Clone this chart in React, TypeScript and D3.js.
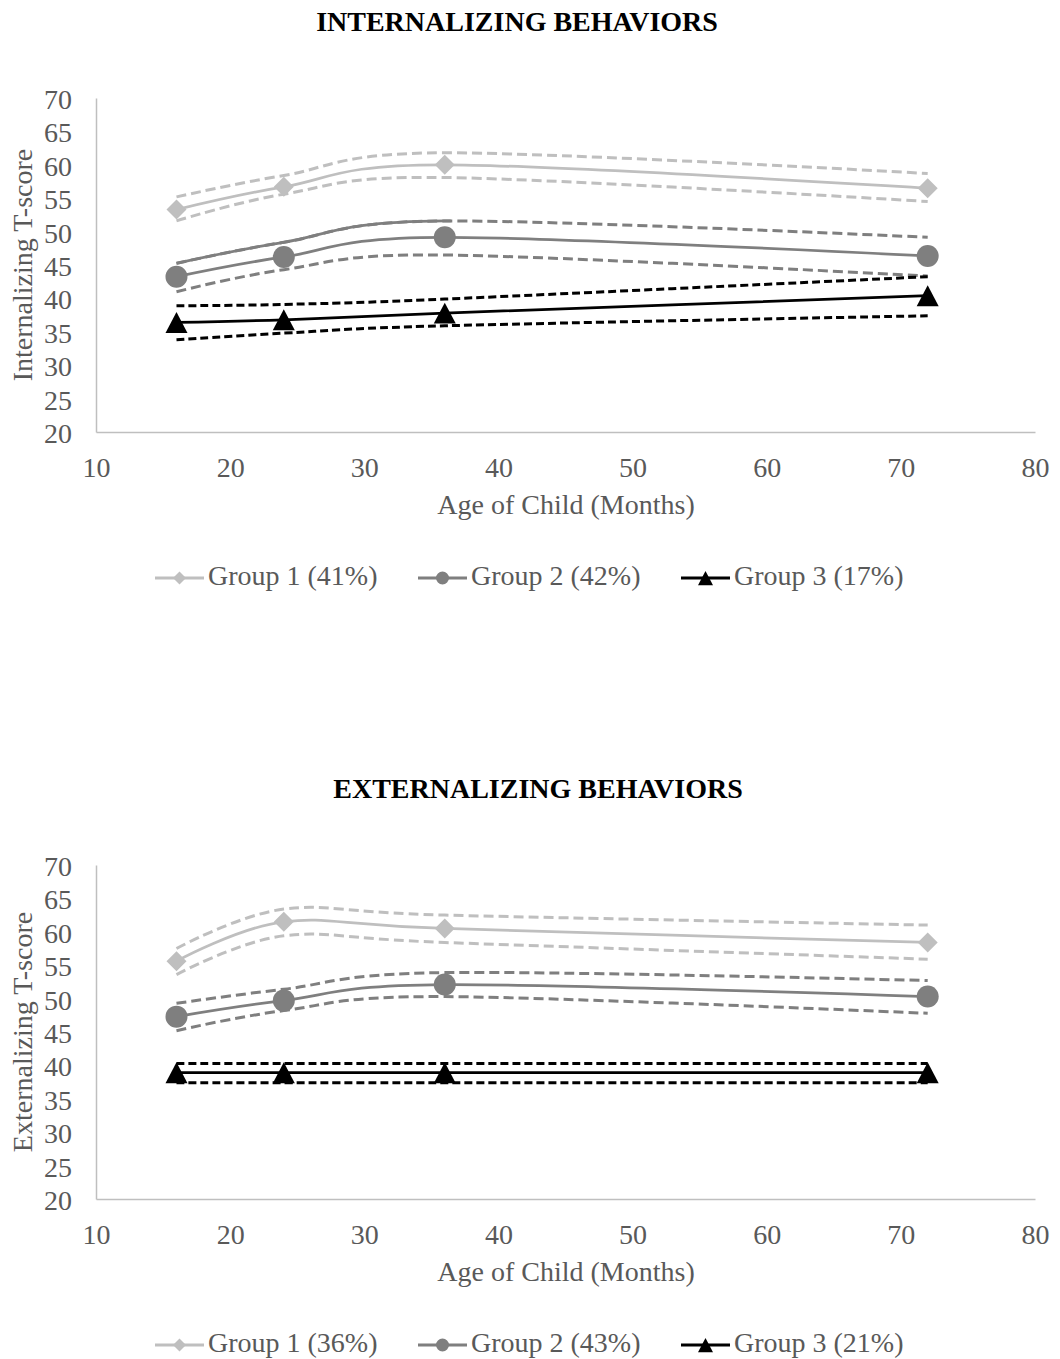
import React, { useEffect, useRef } from "react";
import * as d3 from "d3";

// ---------- data ----------
const ages = [16, 24, 36, 72];
const xTicks = [10, 20, 30, 40, 50, 60, 70, 80];
const yTicks = [20, 25, 30, 35, 40, 45, 50, 55, 60, 65, 70];
const groupNames = ["Group 1", "Group 2", "Group 3"];
const groupColors = ["#bfbfbf", "#7f7f7f", "#000000"];
const groupMarkers = ["diamond", "circle", "triangle"];

const intTitle = "INTERNALIZING BEHAVIORS";
const intYLabel = "Internalizing T-score";
const intShares = ["41%", "42%", "17%"];
const intG1 = [53.3, 56.7, 60.0, 56.5];
const intG1Hi = [55.2, 58.4, 61.8, 58.7];
const intG1Lo = [51.6, 55.6, 58.1, 54.5];
const intG2 = [43.25, 46.2, 49.15, 46.35];
const intG2Hi = [45.25, 48.4, 51.6, 49.15];
const intG2Lo = [41.0, 44.3, 46.5, 43.35];
const intG3 = [36.4, 36.8, 37.8, 40.4];
const intG3Hi = [38.9, 39.1, 39.9, 43.25];
const intG3Lo = [33.8, 34.8, 35.9, 37.4];
// the upper bound of group 2 is drawn solid up to this age in the original
const intG2HiSolidUntil = 36;

const extTitle = "EXTERNALIZING BEHAVIORS";
const extYLabel = "Externalizing T-score";
const extShares = ["36%", "43%", "21%"];
const extG1 = [55.6, 61.5, 60.5, 58.4];
const extG1Hi = [57.5, 63.4, 62.5, 61.0];
const extG1Lo = [53.6, 59.4, 58.4, 55.9];
const extG2 = [47.3, 49.7, 52.1, 50.3];
const extG2Hi = [49.3, 51.4, 53.9, 52.7];
const extG2Lo = [45.2, 48.2, 50.3, 47.8];
const extG3 = [38.9, 38.9, 38.9, 38.9];
const extG3Hi = [40.3, 40.3, 40.3, 40.3];
const extG3Lo = [37.4, 37.4, 37.4, 37.4];

const xLabel = "Age of Child (Months)";

// ---------- layout ----------
const W = 1060;
const H = 1359;
const FONT = "'Liberation Serif', 'Times New Roman', Times, serif";
const TEXT = "#595959";
const AXIS = "#bfbfbf";
const FS = 28;

export default function App() {
  const ref = useRef<SVGSVGElement>(null);

  useEffect(() => {
    const svg = d3.select(ref.current);
    svg.selectAll("*").remove();

    const panels = [
      {
        oy: 0,
        title: intTitle,
        titleX: 517,
        yLabel: intYLabel,
        shares: intShares,
        series: [
          [intG1, intG1Hi, intG1Lo],
          [intG2, intG2Hi, intG2Lo],
          [intG3, intG3Hi, intG3Lo],
        ],
        solidHi: [null, intG2HiSolidUntil, null] as (number | null)[],
      },
      {
        oy: 767,
        title: extTitle,
        titleX: 538,
        yLabel: extYLabel,
        shares: extShares,
        series: [
          [extG1, extG1Hi, extG1Lo],
          [extG2, extG2Hi, extG2Lo],
          [extG3, extG3Hi, extG3Lo],
        ],
        solidHi: [null, null, null] as (number | null)[],
      },
    ];

    const x = d3.scaleLinear().domain([10, 80]).range([96, 1035]);

    const markerPath = (kind: string, cx: number, cy: number, s: number) => {
      const p = d3.path();
      if (kind === "diamond") {
        const r = s / 2;
        p.moveTo(cx, cy - r);
        p.lineTo(cx + r, cy);
        p.lineTo(cx, cy + r);
        p.lineTo(cx - r, cy);
        p.closePath();
      } else if (kind === "circle") {
        p.arc(cx, cy, s / 2, 0, Math.PI * 2);
        p.closePath();
      } else {
        const hw = s / 2;
        const hh = (s * 0.95) / 2;
        p.moveTo(cx, cy - hh);
        p.lineTo(cx + hw, cy + hh);
        p.lineTo(cx - hw, cy + hh);
        p.closePath();
      }
      return p.toString();
    };
    const markerSize = [20, 22, 22];
    const legendMarkerSize = [13, 13, 15];

    panels.forEach((pn, pi) => {
      const y = d3
        .scaleLinear()
        .domain([20, 70])
        .range([432 + pn.oy, 98 + pn.oy]);
      const g = svg.append("g");

      // title
      g.append("text")
        .attr("x", pn.titleX)
        .attr("y", 31 + pn.oy)
        .attr("text-anchor", "middle")
        .attr("font-family", FONT)
        .attr("font-weight", "bold")
        .attr("font-size", FS)
        .attr("fill", "#000")
        .text(pn.title);

      // axes
      const xAxis = d3
        .axisBottom(x)
        .tickValues(xTicks)
        .tickSize(0)
        .tickSizeOuter(0)
        .tickFormat(d3.format("d"));
      const gx = g
        .append("g")
        .attr("transform", `translate(0,${y(20)})`)
        .call(xAxis);
      gx.select(".domain").attr("stroke", AXIS).attr("stroke-width", 1.5);
      gx.selectAll("text")
        .attr("y", 45)
        .attr("dy", null)
        .attr("font-family", FONT)
        .attr("font-size", FS)
        .attr("fill", TEXT);

      const yAxis = d3
        .axisLeft(y)
        .tickValues(yTicks)
        .tickSize(0)
        .tickSizeOuter(0)
        .tickFormat(d3.format("d"));
      const gy = g
        .append("g")
        .attr("transform", `translate(${x(10)},0)`)
        .call(yAxis);
      gy.select(".domain").attr("stroke", AXIS).attr("stroke-width", 1.5);
      gy.selectAll("text")
        .attr("x", -24)
        .attr("y", 10.5)
        .attr("dy", null)
        .attr("font-family", FONT)
        .attr("font-size", FS)
        .attr("fill", TEXT);

      // axis titles
      g.append("text")
        .attr("x", 566)
        .attr("y", 514 + pn.oy)
        .attr("text-anchor", "middle")
        .attr("font-family", FONT)
        .attr("font-size", FS)
        .attr("fill", TEXT)
        .text(xLabel);
      g.append("text")
        .attr("transform", `translate(32,${265 + pn.oy}) rotate(-90)`)
        .attr("text-anchor", "middle")
        .attr("font-family", FONT)
        .attr("font-size", FS)
        .attr("fill", TEXT)
        .text(pn.yLabel);

      const line = d3
        .line<number>()
        .x((_, i) => x(ages[i]))
        .y((d) => y(d))
        .curve(d3.curveCardinal);

      // lines
      pn.series.forEach((grp, gi) => {
        const col = groupColors[gi];
        const dash = gi === 2 ? "8,4" : "10,5";
        const dw = 3;
        [grp[1], grp[2]].forEach((ci) => {
          g.append("path")
            .attr("d", line(ci))
            .attr("fill", "none")
            .attr("stroke", col)
            .attr("stroke-width", dw)
            .attr("stroke-dasharray", dash);
        });
        const su = pn.solidHi[gi];
        if (su != null) {
          const cid = `clip-${pi}-${gi}`;
          g.append("clipPath")
            .attr("id", cid)
            .append("rect")
            .attr("x", 0)
            .attr("y", 0)
            .attr("width", x(su) + 6)
            .attr("height", H);
          g.append("path")
            .attr("d", line(grp[1]))
            .attr("fill", "none")
            .attr("stroke", col)
            .attr("stroke-width", 2.75)
            .attr("clip-path", `url(#${cid})`);
        }
        g.append("path")
          .attr("d", line(grp[0]))
          .attr("fill", "none")
          .attr("stroke", col)
          .attr("stroke-width", 2.75);
      });

      // markers
      pn.series.forEach((grp, gi) => {
        g.selectAll(null)
          .data(grp[0])
          .enter()
          .append("path")
          .attr("d", (d, i) =>
            markerPath(groupMarkers[gi], x(ages[i]), y(d), markerSize[gi])
          )
          .attr("fill", groupColors[gi]);
      });

      // legend
      const legendStarts = [155, 418, 681];
      const ly = 578 + pn.oy;
      groupNames.forEach((nm, gi) => {
        const lx = legendStarts[gi];
        g.append("line")
          .attr("x1", lx)
          .attr("x2", lx + 49)
          .attr("y1", ly)
          .attr("y2", ly)
          .attr("stroke", groupColors[gi])
          .attr("stroke-width", 3);
        g.append("path")
          .attr(
            "d",
            markerPath(groupMarkers[gi], lx + 24.5, ly, legendMarkerSize[gi])
          )
          .attr("fill", groupColors[gi]);
        g.append("text")
          .attr("x", lx + 53)
          .attr("y", 585 + pn.oy)
          .attr("font-family", FONT)
          .attr("font-size", FS)
          .attr("fill", TEXT)
          .text(`${nm} (${pn.shares[gi]})`);
      });
    });
  }, []);

  return (
    <svg
      ref={ref}
      width={W}
      height={H}
      style={{ position: "absolute", left: 0, top: 0, background: "#fff" }}
    />
  );
}
